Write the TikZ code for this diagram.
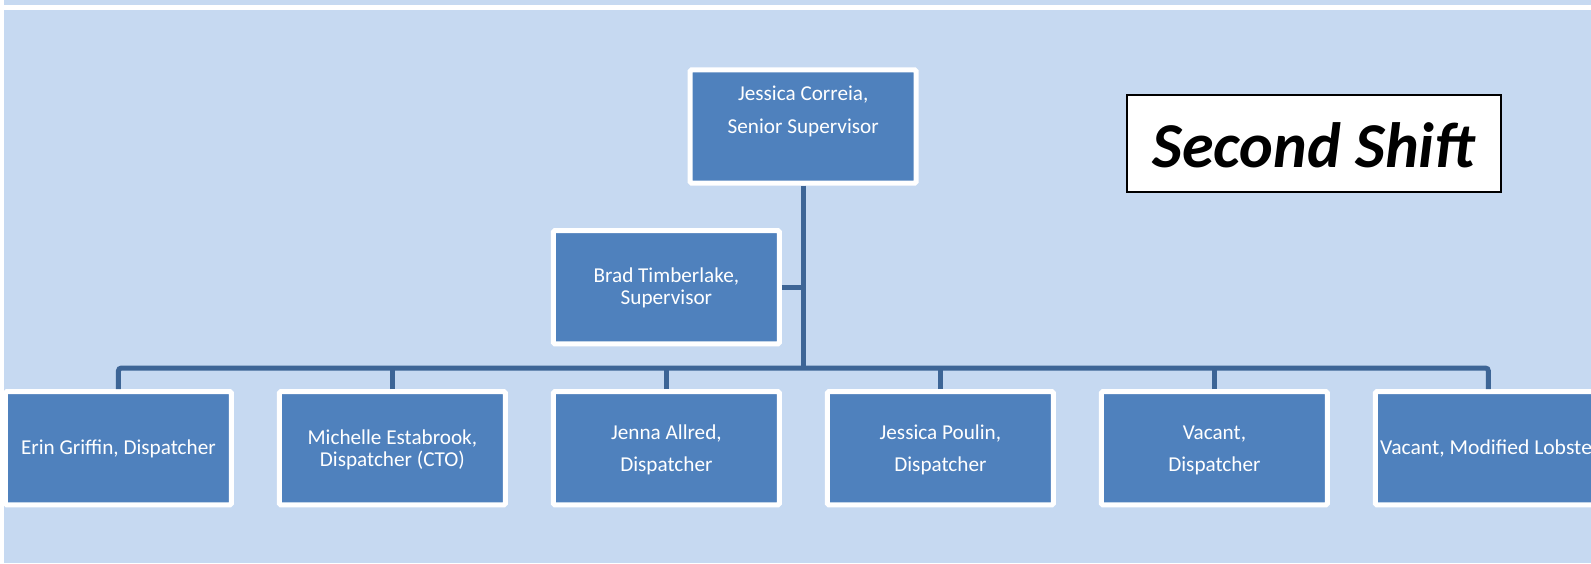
\documentclass[tikz,border=0pt]{standalone}
\usepackage{fontspec}
\setmainfont{Carlito}
\definecolor{paleblue}{HTML}{C6D9F1}
\definecolor{boxblue}{HTML}{4F81BD}
\definecolor{linkblue}{HTML}{3D6596}

\begin{document}
\begin{tikzpicture}[x=1pt,y=-1pt,
  unitbox/.style={fill=boxblue,draw=white,line width=5pt,rounded corners=1.5pt,
    minimum width=226pt,minimum height=113.4pt,inner sep=0pt},
  link/.style={draw=linkblue,line width=5pt},
  boxtext/.style={text=white,font=\fontsize{21.2}{22}\selectfont,
    anchor=base,inner sep=0pt}]

  \useasboundingbox (0,0) rectangle (1591,563);
  \clip (0,0) rectangle (1591,563);

  % page background
  \fill[white]    (0,0)  rectangle (1591,563);
  \fill[paleblue] (4,0)  rectangle (1591,5);
  \fill[paleblue] (4,10) rectangle (1591,563);

  \def\rowy{448.2}  % bottom row centre
  \def\txa{439.5}   % baselines, wide spacing
  \def\txb{471}
  \def\txc{444}     % baselines, tight spacing
  \def\txd{466}
  \def\txe{454.5}   % single line

  % boxes
  \node[unitbox] (correia)    at (803.2,126.5) {};
  \node[unitbox] (timberlake) at (666.4,287.2) {};
  \node[unitbox] (griffin)    at (118.4,\rowy) {};
  \node[unitbox] (estabrook)  at (392.4,\rowy) {};
  \node[unitbox] (allred)     at (666.4,\rowy) {};
  \node[unitbox] (poulin)     at (940.4,\rowy) {};
  \node[unitbox] (vacant)     at (1214.4,\rowy) {};
  \node[unitbox] (lobster)    at (1488.4,\rowy) {};

  % connectors
  \coordinate (bus) at (803,368);
  \draw[link] (correia.south) -- (correia.south |- bus);
  \draw[link] (timberlake.east) -- (timberlake.east -| bus);
  \draw[link,rounded corners=3pt] (griffin.north) |- (bus) -| (lobster.north);
  \draw[link] (estabrook.north) -- (estabrook.north |- bus);
  \draw[link] (allred.north) -- (allred.north |- bus);
  \draw[link] (poulin.north) -- (poulin.north |- bus);
  \draw[link] (vacant.north) -- (vacant.north |- bus);

  % texts, one node per line
  \node[boxtext] (correia-a)    at (803.2,100)   {Jessica Correia,};
  \node[boxtext] (correia-b)    at (803.2,133)   {Senior Supervisor};
  \node[boxtext] (timberlake-a) at (666.4,282.5) {Brad Timberlake,};
  \node[boxtext] (timberlake-b) at (666.4,304.5) {Supervisor};
  \node[boxtext] (griffin-a)    at (118.4,\txe)  {Erin Griffin, Dispatcher};
  \node[boxtext] (estabrook-a)  at (392.4,\txc)  {Michelle Estabrook,};
  \node[boxtext] (estabrook-b)  at (392.4,\txd)  {Dispatcher (CTO)};
  \node[boxtext] (allred-a)     at (666.4,\txa)  {Jenna Allred,};
  \node[boxtext] (allred-b)     at (666.4,\txb)  {Dispatcher};
  \node[boxtext] (poulin-a)     at (940.4,\txa)  {Jessica Poulin,};
  \node[boxtext] (poulin-b)     at (940.4,\txb)  {Dispatcher};
  \node[boxtext] (vacant-a)     at (1214.4,\txa) {Vacant,};
  \node[boxtext] (vacant-b)     at (1214.4,\txb) {Dispatcher};
  \node[boxtext,anchor=base west] (lobster-a) at (1380,454)
    {\scalebox{1.02}[1]{Vacant, Modified Lobste}};

  % title
  \node[draw=black,line width=2pt,fill=white,minimum width=373.7pt,
    minimum height=97.4pt,inner sep=0pt] (shift) at (1313.8,143.7) {};
  \node[font=\fontsize{64}{70}\selectfont\bfseries\itshape,anchor=base,
    inner sep=0pt] (shift-t) at (1314,167) {Second Shift};

\end{tikzpicture}
\end{document}
